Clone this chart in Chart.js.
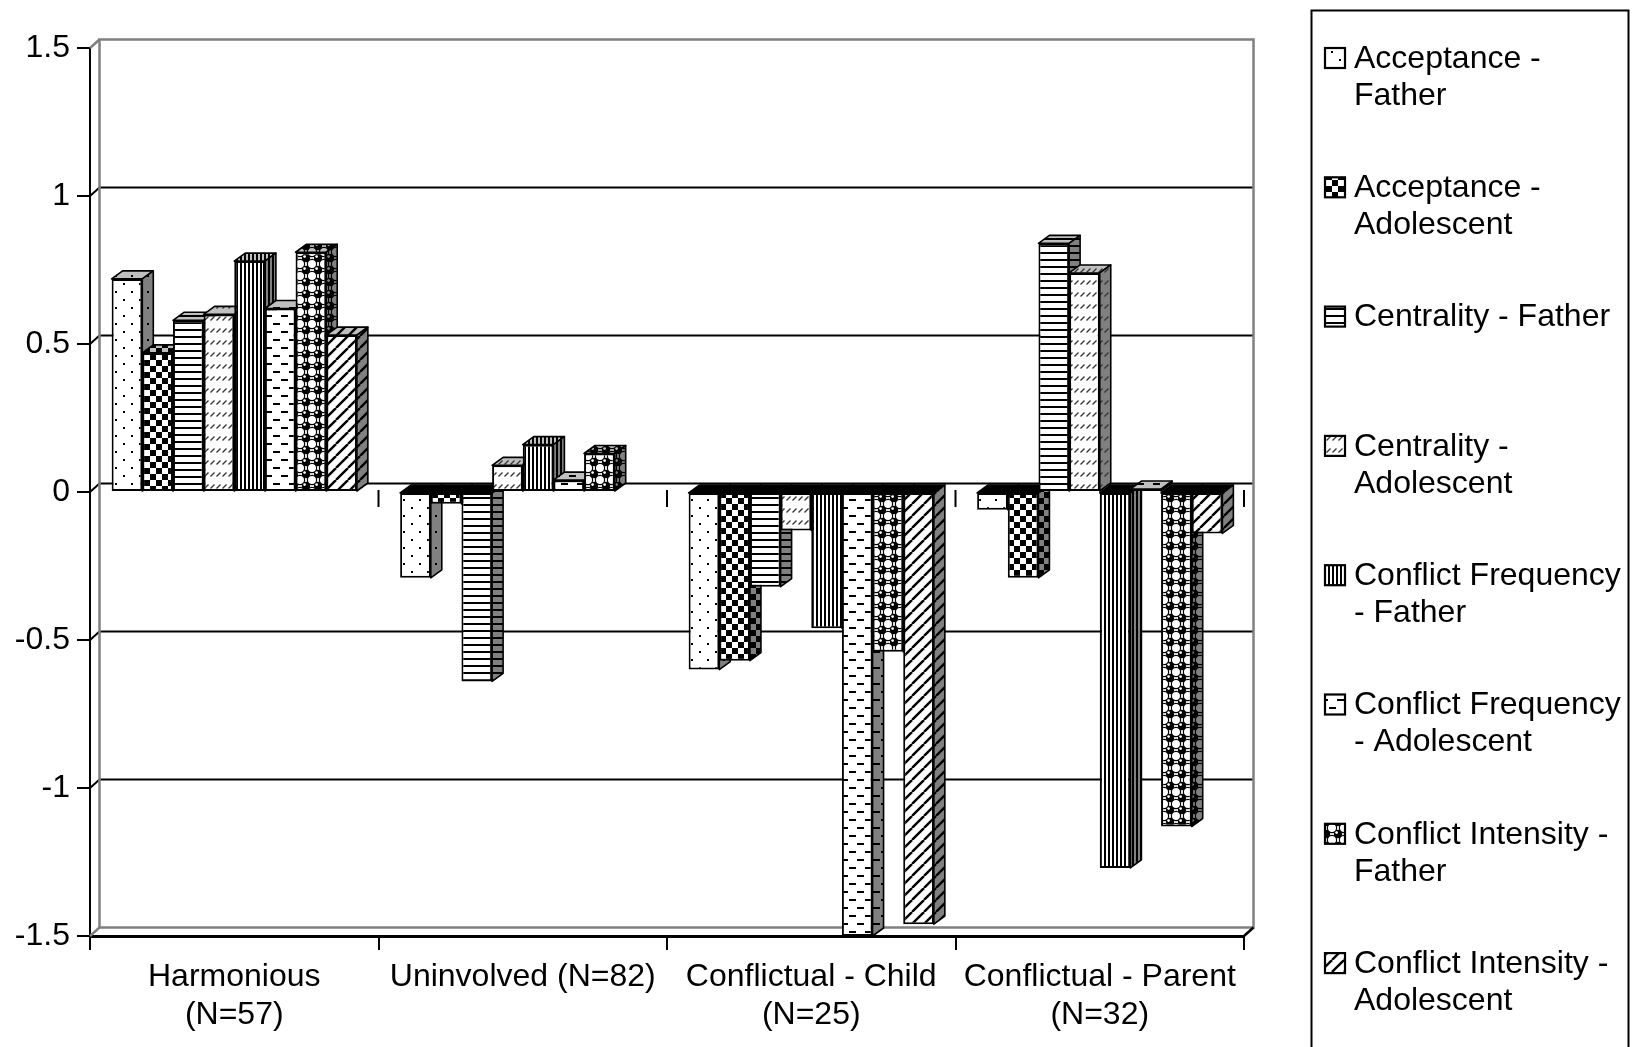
<!DOCTYPE html>
<html>
<head>
<meta charset="utf-8">
<title>Family typology profiles</title>
<script src="https://cdn.jsdelivr.net/npm/chart.js@4.4.1/dist/chart.umd.min.js"></script>
<style>
  html, body { margin: 0; padding: 0; background: #ffffff; }
  #wrap { width: 1633px; height: 1047px; position: relative; }
</style>
</head>
<body>
<div id="wrap"><canvas id="chart"></canvas></div>
<script>
// ---- data -------------------------------------------------------------
const categoryLabels = [
  ['Harmonious', '(N=57)'],
  ['Uninvolved (N=82)'],
  ['Conflictual - Child', '(N=25)'],
  ['Conflictual - Parent', '(N=32)']
];

const seriesNames = [
  'Acceptance - Father',
  'Acceptance - Adolescent',
  'Centrality - Father',
  'Centrality - Adolescent',
  'Conflict Frequency - Father',
  'Conflict Frequency - Adolescent',
  'Conflict Intensity - Father',
  'Conflict Intensity - Adolescent'
];

const acceptanceFather        = [0.72, -0.29, -0.60, -0.06];
const acceptanceAdolescent    = [0.47, -0.04, -0.57, -0.29];
const centralityFather        = [0.58, -0.64, -0.32,  0.84];
const centralityAdolescent    = [0.60,  0.09, -0.13,  0.74];
const conflictFreqFather      = [0.78,  0.16, -0.46, -1.27];
const conflictFreqAdolescent  = [0.62,  0.04, -1.50,  0.01];
const conflictIntFather       = [0.81,  0.13, -0.54, -1.13];
const conflictIntAdolescent   = [0.53,  0.00, -1.46, -0.14];

const yTickValues = [-1.5, -1, -0.5, 0, 0.5, 1, 1.5];
const yTickLabels = ['-1.5', '-1', '-0.5', '0', '0.5', '1', '1.5'];

// ---- fill patterns ----------------------------------------------------
const seriesFills = ['dots', 'checker', 'hlines', 'dashdiag', 'vlines', 'dashes', 'spheres', 'diag'];

function makePattern(kind, bg) {
  const sizes = { dots: [16, 16], checker: [12, 12], hlines: [8, 7], dashdiag: [6, 12],
                  vlines: [4, 4], dashes: [16, 16], spheres: [12, 12], diag: [12, 12] };
  const [w, h] = sizes[kind];
  const c = document.createElement('canvas');
  c.width = w; c.height = h;
  const g = c.getContext('2d');
  g.fillStyle = bg; g.fillRect(0, 0, w, h);
  g.fillStyle = '#000'; g.strokeStyle = '#000';
  switch (kind) {
    case 'dots':
      g.fillRect(3, 3, 2, 2); g.fillRect(11, 11, 2, 2); break;
    case 'checker':
      g.fillRect(0, 0, 6, 6); g.fillRect(6, 6, 6, 6); break;
    case 'hlines':
      g.fillRect(0, 0, w, 2); break;
    case 'dashdiag':
      g.lineWidth = 1.3; g.strokeStyle = '#333';
      g.beginPath(); g.moveTo(0.5, 8.5); g.lineTo(4.5, 4.5); g.stroke(); break;
    case 'vlines':
      g.fillRect(0, 0, 2, h); break;
    case 'dashes':
      g.fillRect(1, 3, 7, 2); g.fillRect(9, 11, 7, 2); break;
    case 'spheres': {
      g.lineWidth = 1.2;
      for (const [cx, cy] of [[0, 0], [12, 0], [0, 12], [12, 12]]) {
        g.beginPath(); g.arc(cx, cy, 4.6, 0, Math.PI * 2); g.stroke();
      }
      g.beginPath(); g.arc(6, 6, 4.2, 0, Math.PI * 2); g.fill();
      g.fillStyle = bg;
      g.beginPath(); g.arc(4.6, 4.6, 1.4, 0, Math.PI * 2); g.fill();
      break;
    }
    case 'diag':
      g.lineWidth = 2.4;
      for (const o of [-12, 0, 12]) {
        g.beginPath(); g.moveTo(o, h); g.lineTo(o + w, 0); g.stroke();
      }
      break;
  }
  return g.createPattern(c, 'repeat');
}

const frontFills = seriesFills.map(k => makePattern(k, '#ffffff'));
const topFills   = seriesFills.map(k => makePattern(k, '#c0c0c0'));
const sideFills  = seriesFills.map(k => makePattern(k, '#808080'));

const seriesValues = [
  acceptanceFather, acceptanceAdolescent, centralityFather, centralityAdolescent,
  conflictFreqFather, conflictFreqAdolescent, conflictIntFather, conflictIntAdolescent
];

const FONT = "'Liberation Sans', Arial, sans-serif";

// ---- 3D depth of the plot ---------------------------------------------
const WALL_DX = 9.5, WALL_DY = 8.5;   // back wall offset
const BAR_DX = 11, BAR_DY = 8;        // column depth

function seg(ctx, pts) {
  ctx.beginPath();
  ctx.moveTo(pts[0][0], pts[0][1]);
  for (let i = 1; i < pts.length; i++) ctx.lineTo(pts[i][0], pts[i][1]);
  ctx.stroke();
}

function drawWall(chart) {
  const ctx = chart.ctx, a = chart.chartArea, ys = chart.scales.y, xs = chart.scales.x;
  ctx.save();
  ctx.lineCap = 'butt';
  // gridlines on the back wall
  ctx.strokeStyle = '#000'; ctx.lineWidth = 2;
  for (const v of yTickValues) {
    if (v === ys.min || v === ys.max) continue;
    const py = ys.getPixelForValue(v);
    seg(ctx, [[a.left, py], [a.left + WALL_DX, py - WALL_DY], [a.right + WALL_DX, py - WALL_DY]]);
  }
  // wall outline
  ctx.strokeStyle = '#808080'; ctx.lineWidth = 2.5;
  ctx.strokeRect(a.left + WALL_DX, a.top - WALL_DY, a.right - a.left, a.bottom - a.top);
  seg(ctx, [[a.left, a.top], [a.left + WALL_DX, a.top - WALL_DY]]);
  seg(ctx, [[a.left, a.bottom], [a.left + WALL_DX, a.bottom - WALL_DY]]);
  ctx.strokeStyle = '#000'; ctx.lineWidth = 2.5;
  seg(ctx, [[a.right, a.bottom], [a.right + WALL_DX, a.bottom - WALL_DY]]);
  // category marks on the zero level
  const zy = ys.getPixelForValue(0);
  ctx.lineWidth = 2;
  for (let i = 1; i <= categoryLabels.length; i++) {
    const bx = xs.getPixelForValue(i - 0.5);
    seg(ctx, [[bx, zy - 2], [bx, zy + 15]]);
  }
  ctx.restore();
}

function drawDepthFaces(chart, meta) {
  const ctx = chart.ctx, i = meta.index, vals = chart.data.datasets[i].data;
  ctx.save();
  ctx.strokeStyle = '#000'; ctx.lineWidth = 1.6; ctx.lineJoin = 'round';
  meta.data.forEach((el, j) => {
    const v = vals[j];
    if (!v) return;
    const p = el.getProps(['x', 'y', 'base', 'width'], true);
    const l = p.x - p.width / 2, r = p.x + p.width / 2;
    const top = Math.min(p.y, p.base), bot = Math.max(p.y, p.base);
    // top face
    ctx.beginPath();
    ctx.moveTo(l, top); ctx.lineTo(l + BAR_DX, top - BAR_DY);
    ctx.lineTo(r + BAR_DX, top - BAR_DY); ctx.lineTo(r, top); ctx.closePath();
    ctx.fillStyle = v > 0 ? topFills[i] : '#000';
    ctx.fill(); ctx.stroke();
    // right side face
    ctx.beginPath();
    ctx.moveTo(r, top); ctx.lineTo(r + BAR_DX, top - BAR_DY);
    ctx.lineTo(r + BAR_DX, bot - BAR_DY); ctx.lineTo(r, bot); ctx.closePath();
    ctx.fillStyle = sideFills[i];
    ctx.fill(); ctx.stroke();
  });
  ctx.restore();
}

const columns3d = {
  id: 'columns3d',
  beforeDatasetsDraw(chart) {
    drawWall(chart);
    const metas = chart.getSortedVisibleDatasetMetas().slice().sort((m, n) => m.index - n.index);
    for (const meta of metas) {
      meta.controller.draw();
      drawDepthFaces(chart, meta);
    }
    return false;
  }
};

function wrapWords(ctx, text, maxW) {
  const words = text.split(' ');
  const lines = [];
  let cur = '';
  for (const w of words) {
    const t = cur ? cur + ' ' + w : w;
    if (cur && ctx.measureText(t).width > maxW) { lines.push(cur); cur = w; }
    else cur = t;
  }
  if (cur) lines.push(cur);
  return lines;
}

const sideLegend = {
  id: 'sideLegend',
  afterDraw(chart) {
    const ctx = chart.ctx;
    ctx.save();
    ctx.strokeStyle = '#000'; ctx.lineWidth = 2;
    ctx.strokeRect(1311.5, 10.5, 317, 1100);
    ctx.font = '32px ' + FONT;
    ctx.fillStyle = '#000';
    ctx.textBaseline = 'middle';
    ctx.textAlign = 'left';
    seriesNames.forEach((name, i) => {
      const yc = 58 + i * 129.3;
      ctx.fillStyle = frontFills[i];
      ctx.fillRect(1325, yc - 10, 20, 20);
      ctx.lineWidth = 2.2; ctx.strokeRect(1325, yc - 10, 20, 20);
      ctx.fillStyle = '#000';
      wrapWords(ctx, name, 272).forEach((ln, k) => ctx.fillText(ln, 1354, yc + 1 + k * 37));
    });
    ctx.restore();
  }
};

new Chart(document.getElementById('chart'), {
  type: 'bar',
  data: {
    labels: categoryLabels,
    datasets: seriesNames.map((name, i) => ({
      label: name,
      data: seriesValues[i],
      backgroundColor: frontFills[i],
      borderColor: '#000',
      borderWidth: 2,
      borderSkipped: false
    }))
  },
  options: {
    responsive: true,
    maintainAspectRatio: false,
    animation: false,
    events: [],
    datasets: { bar: { categoryPercentage: 0.85, barPercentage: 1.0 } },
    layout: { padding: { left: 0, top: 48, right: 389, bottom: 0 } },
    plugins: { legend: { display: false }, tooltip: { enabled: false } },
    scales: {
      x: {
        grid: { offset: true, drawOnChartArea: false, drawTicks: true, tickLength: 14, color: '#000', lineWidth: 2 },
        border: { display: true, color: '#000', width: 3 },
        ticks: { color: '#000', font: { family: FONT, size: 32, lineHeight: 1.2 }, padding: 8,
                 maxRotation: 0, autoSkip: false },
        afterFit(s) { s.height = 111; }
      },
      y: {
        min: -1.5, max: 1.5,
        afterBuildTicks(s) { s.ticks = yTickValues.map(v => ({ value: v })); },
        grid: { drawOnChartArea: false, drawTicks: true, tickLength: 13, color: '#000', lineWidth: 2 },
        border: { display: true, color: '#000', width: 2 },
        ticks: { color: '#000', font: { family: FONT, size: 32 }, padding: 7,
                 callback: (v, idx) => yTickLabels[idx] },
        afterFit(s) { s.width = 90; }
      }
    }
  },
  plugins: [columns3d, sideLegend]
});
</script>
</body>
</html>
